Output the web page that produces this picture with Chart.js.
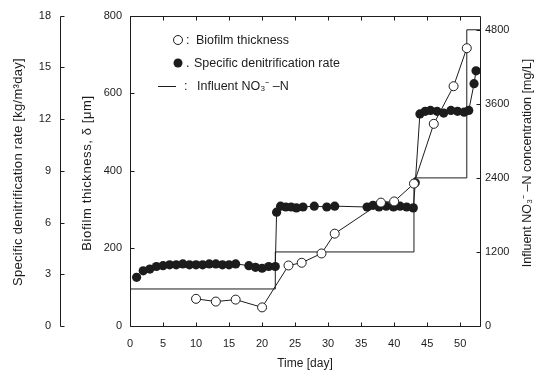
<!DOCTYPE html>
<html>
<head>
<meta charset="utf-8">
<script src="https://cdn.jsdelivr.net/npm/chart.js@4.4.0/dist/chart.umd.min.js"></script>
<style>
html, body { margin: 0; padding: 0; background: #fff; }
#wrap { width: 536px; height: 372px; }
</style>
</head>
<body>
<div id="wrap"><canvas id="denitChart"></canvas></div>
<script>
// biofilm thickness [um] - open circles, inner left axis
var thickDays = [10, 13, 16, 20, 24, 26, 29, 31, 38, 40, 43, 46, 49, 51];
var thickVals = [70, 63, 68, 48, 156, 163, 187, 238, 318, 321, 367, 521, 618, 716];

// specific denitrification rate [kg/m3 day] - filled circles, outer left axis
var rateDays = [1, 2, 3, 4, 5, 6, 7, 8, 9, 10, 11, 12, 13, 14, 15, 16,
                18, 19, 20, 21, 22,
                22.2, 22.8, 23.6, 24.4, 25.2, 26.2, 27.9, 29.8, 31,
                35.9, 36.8, 37.7, 38.8, 39.9, 40.9, 41.9, 42.9,
                43.2, 43.9, 44.7, 45.5, 46.5, 47.5, 48.6, 49.6, 50.6, 51.3,
                52.1, 52.4];
var rateVals = [2.82, 3.2, 3.3, 3.45, 3.5, 3.55, 3.55, 3.6, 3.55, 3.55, 3.55, 3.6, 3.6, 3.55, 3.55, 3.6,
                3.5, 3.4, 3.35, 3.45, 3.45,
                6.6, 6.95, 6.9, 6.9, 6.85, 6.9, 6.95, 6.9, 6.95,
                6.9, 7.0, 6.9, 6.95, 6.9, 6.95, 6.9, 6.85,
                8.3, 12.3, 12.45, 12.5, 12.45, 12.35, 12.5, 12.45, 12.4, 12.5,
                14.05, 14.8];

// influent NO3-N [mg/L] - step line, right axis
var no3Days = [0, 22, 43, 51, 53];
var no3Vals = [600, 1200, 2400, 4800, 4800];

// axis ranges and ticks
var dayTicks = { min: 0, max: 53, step: 5 };
var thickTicks = { min: 0, max: 800, step: 200 };
var rateTicks = { min: 0, max: 18, step: 3 };
var no3Range = { min: 0, max: 5030 };
var no3TickVals = [0, 1200, 2400, 3600, 4800];

var INK = '#1c1c1c';
var FONT = '"Liberation Sans", Arial, sans-serif';
var TICK = 4;

function pairs(xs, ys) {
    var out = [];
    for (var i = 0; i < xs.length; i++) out.push({ x: xs[i], y: ys[i] });
    return out;
}

function fixWidth(w) { return function(scale) { scale.width = w; }; }
function plain(v) { return String(v); }

// frame, inward tick marks, the detached rate axis, titles and key
var axisMarks = {
    id: 'axisMarks',
    beforeDatasetsDraw: function(chart) {
        var ctx = chart.ctx, a = chart.chartArea;
        var sx = chart.scales.x, sy = chart.scales.y, sr = chart.scales.yRate, sn = chart.scales.yNo3;
        ctx.save();
        ctx.strokeStyle = INK;
        ctx.lineWidth = 1;
        ctx.beginPath();
        var L = Math.round(a.left) + 0.5, R = Math.round(a.right) + 0.5;
        var T = Math.round(a.top) + 0.5, B = Math.round(a.bottom) + 0.5;
        ctx.rect(L, T, R - L, B - T);
        sx.ticks.forEach(function(t) {
            var px = Math.round(sx.getPixelForValue(t.value)) + 0.5;
            ctx.moveTo(px, B); ctx.lineTo(px, B - TICK);
            ctx.moveTo(px, T); ctx.lineTo(px, T + TICK);
        });
        sy.ticks.forEach(function(t) {
            var py = Math.round(sy.getPixelForValue(t.value)) + 0.5;
            ctx.moveTo(L, py); ctx.lineTo(L + TICK, py);
        });
        sn.ticks.forEach(function(t) {
            var py = Math.round(sn.getPixelForValue(t.value)) + 0.5;
            ctx.moveTo(R, py); ctx.lineTo(R - TICK, py);
        });
        var rx = Math.round(sr.right) + 0.5;
        ctx.moveTo(rx, Math.round(sr.getPixelForValue(rateTicks.max)) + 0.5);
        ctx.lineTo(rx, Math.round(sr.getPixelForValue(rateTicks.min)) + 0.5);
        sr.ticks.forEach(function(t) {
            var py = Math.round(sr.getPixelForValue(t.value)) + 0.5;
            ctx.moveTo(rx, py); ctx.lineTo(rx + TICK, py);
        });
        ctx.stroke();
        ctx.restore();
    },
    afterDraw: function(chart) {
        var ctx = chart.ctx, a = chart.chartArea;
        ctx.save();
        ctx.fillStyle = INK;
        ctx.textBaseline = 'middle';
        ctx.textAlign = 'center';

        // axis titles
        ctx.font = '12px ' + FONT;
        ctx.fillText('Time [day]', (a.left + a.right) / 2, 364);
        var rotated = [
            ['Specific denitrification rate [kg/m\u00b3day]', 18, 172, 13, '0.3px'],
            ['Biofilm thickness, \u03b4 [\u03bcm]', 87, 173, 13, '0.6px'],
            ['Influent NO\u2083\u207b \u2013N concentration [mg/L]', 528, 163, 12.5, '0px']
        ];
        rotated.forEach(function(r) {
            ctx.save();
            ctx.font = r[3] + 'px ' + FONT;
            ctx.letterSpacing = r[4];
            ctx.translate(r[1], r[2]);
            ctx.rotate(-Math.PI / 2);
            ctx.fillText(r[0], 0, 0);
            ctx.restore();
        });

        // key in the upper left of the plot
        ctx.font = '12.5px ' + FONT;
        ctx.textAlign = 'left';
        ctx.strokeStyle = INK;
        ctx.lineWidth = 1;
        ctx.beginPath();
        ctx.arc(178, 40, 4.5, 0, Math.PI * 2);
        ctx.fillStyle = '#fff';
        ctx.fill();
        ctx.stroke();
        ctx.fillStyle = INK;
        ctx.beginPath();
        ctx.arc(178, 63, 4.5, 0, Math.PI * 2);
        ctx.fill();
        ctx.beginPath();
        ctx.moveTo(158, 86.5);
        ctx.lineTo(176, 86.5);
        ctx.stroke();
        ctx.fillText(':', 186, 41);
        ctx.fillText('Biofilm thickness', 196, 41);
        ctx.fillText('.', 186, 64);
        ctx.fillText('Specific denitrification rate', 194, 64);
        ctx.fillText(':', 184, 87);
        ctx.fillText('Influent NO\u2083\u207b \u2013N', 197, 87);
        ctx.restore();
    }
};

var tickFont = { family: FONT, size: 11 };

new Chart(document.getElementById('denitChart'), {
    type: 'scatter',
    data: {
        datasets: [
            {
                label: 'Biofilm thickness',
                data: pairs(thickDays, thickVals),
                yAxisID: 'y',
                showLine: true,
                borderColor: INK,
                borderWidth: 1,
                pointRadius: 4.5,
                pointBackgroundColor: '#fff',
                pointBorderColor: INK,
                pointBorderWidth: 1
            },
            {
                label: 'Specific denitrification rate',
                data: pairs(rateDays, rateVals),
                yAxisID: 'yRate',
                showLine: true,
                borderColor: INK,
                borderWidth: 1,
                pointRadius: 4.6,
                pointBackgroundColor: INK,
                pointBorderColor: INK,
                pointBorderWidth: 0
            },
            {
                label: 'Influent NO3-N',
                data: pairs(no3Days, no3Vals),
                yAxisID: 'yNo3',
                showLine: true,
                stepped: 'before',
                borderColor: INK,
                borderWidth: 1,
                pointRadius: 0
            }
        ]
    },
    options: {
        responsive: true,
        maintainAspectRatio: false,
        animation: false,
        layout: { padding: { top: 15, left: 0, right: 0, bottom: 0 } },
        plugins: { legend: { display: false }, tooltip: { enabled: false } },
        scales: {
            x: {
                type: 'linear',
                min: dayTicks.min, max: dayTicks.max,
                grid: { display: false, drawTicks: false },
                border: { display: false },
                ticks: { stepSize: dayTicks.step, includeBounds: false, color: INK, font: tickFont, padding: 11, maxRotation: 0, callback: plain },
                afterFit: function(scale) { scale.height = 46; }
            },
            y: {
                position: 'left',
                weight: 0,
                min: thickTicks.min, max: thickTicks.max,
                grid: { display: false, drawTicks: false },
                border: { display: false },
                ticks: { stepSize: thickTicks.step, color: INK, font: tickFont, padding: 8, callback: plain },
                afterFit: fixWidth(70)
            },
            yRate: {
                position: 'left',
                weight: 1,
                min: rateTicks.min, max: rateTicks.max,
                grid: { display: false, drawTicks: false },
                border: { display: false },
                ticks: { stepSize: rateTicks.step, color: INK, font: tickFont, padding: 9, callback: plain },
                afterFit: fixWidth(60)
            },
            yNo3: {
                position: 'right',
                min: no3Range.min, max: no3Range.max,
                grid: { display: false, drawTicks: false },
                border: { display: false },
                ticks: { color: INK, font: tickFont, padding: 5, callback: plain },
                afterBuildTicks: function(scale) {
                    scale.ticks = no3TickVals.map(function(v) { return { value: v }; });
                },
                afterFit: fixWidth(56)
            }
        }
    },
    plugins: [axisMarks]
});
</script>
</body>
</html>
